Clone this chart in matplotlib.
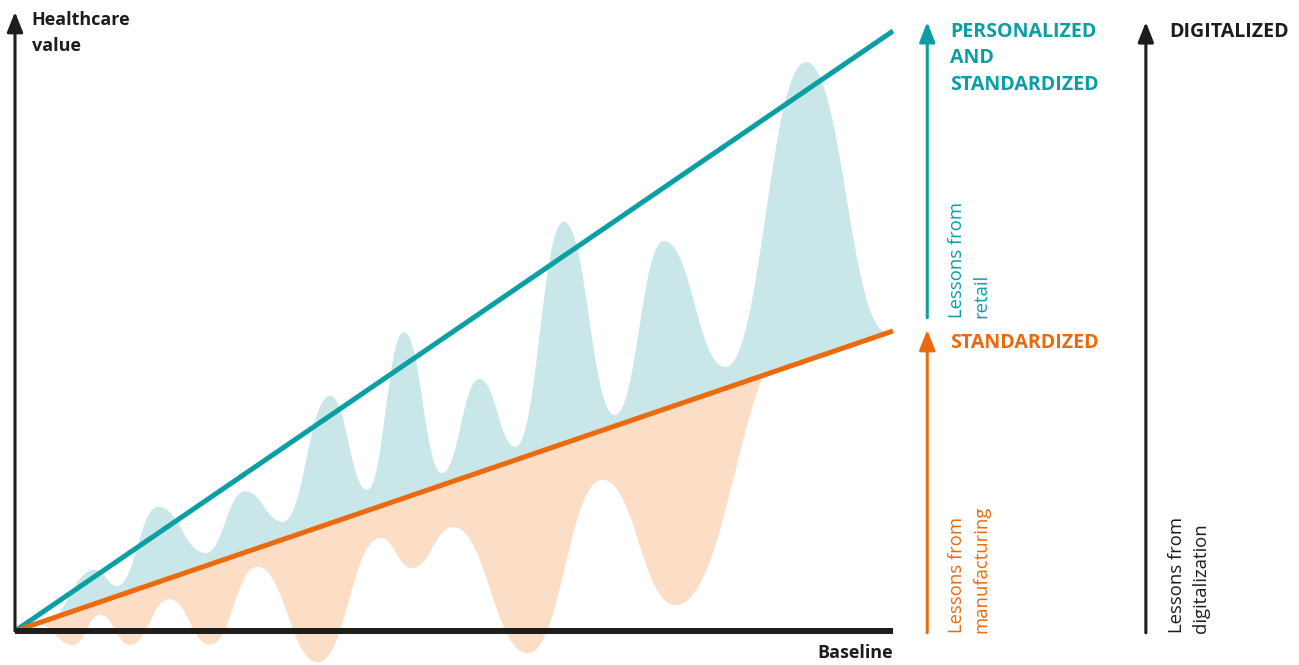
import matplotlib
matplotlib.use("Agg")
import matplotlib.pyplot as plt
from matplotlib.path import Path
from matplotlib.patches import PathPatch, Polygon

plt.rcParams['font.family'] = ['Open Sans', 'DejaVu Sans']

# colours
TEAL = '#0A9EA5'
TEAL_FILL = '#C9E7E9'
ORANGE = '#EC6A0C'
PEACH = '#FCDDC5'
INK = '#1D1D1B'

# end values of the two trend lines (x runs 0..100)
personalized_end = 100
standardized_end = 50

# peaks and troughs of the "retail" wave (above the standardized line)
upper_x = [3.4, 9.1, 11.6, 16.3, 21.7, 26.2, 30.5, 35.9, 40.1, 44.3, 48.6,
           52.9, 57.0, 62.5, 68.3, 73.9, 80.9, 90.1, 99.3]
upper_y = [1.7, 10.2, 7.5, 20.7, 13.0, 23.3, 18.2, 39.2, 23.5, 49.8, 26.3,
           42.0, 30.7, 68.2, 36.0, 65.0, 44.0, 94.8, 49.8]

# peaks and troughs of the "manufacturing" wave (below the standardized line)
lower_x = [2.5, 6.6, 9.7, 13.1, 17.6, 22.2, 27.6, 34.5, 41.6, 45.2, 49.9,
           58.4, 66.9, 75.2, 88.8]
lower_y = [1.2, -2.3, 2.7, -2.3, 5.3, -2.3, 10.7, -5.2, 15.5, 10.5, 17.3,
           -3.7, 25.2, 4.3, 48.5]

slope = standardized_end / 100


def wave_path(xs, ys, k=0.45):
    """Smooth wave through the extrema, closed back along the standardized line."""
    verts = [(xs[0], ys[0])]
    codes = [Path.MOVETO]
    for i in range(len(xs) - 1):
        dx = xs[i + 1] - xs[i]
        verts += [(xs[i] + k * dx, ys[i]), (xs[i + 1] - k * dx, ys[i + 1]),
                  (xs[i + 1], ys[i + 1])]
        codes += [Path.CURVE4] * 3
    verts += [(xs[-1], slope * xs[-1]), (xs[0], slope * xs[0]), (xs[0], ys[0])]
    codes += [Path.LINETO, Path.LINETO, Path.CLOSEPOLY]
    return Path(verts, codes)


fig = plt.figure(figsize=(12.99, 6.65), dpi=100)
ax = fig.add_axes([0, 0, 1, 1])
ax.set_xlim(-15 / 8.78, 1284 / 8.78)
ax.set_ylim(-34 / 6, 631 / 6)
ax.axis('off')

# wave fills, each kept on its own side of the standardized line
above = Polygon([(-5, -5 * slope), (150, 150 * slope), (150, 200), (-5, 200)],
                transform=ax.transData)
below = Polygon([(-5, -5 * slope), (150, 150 * slope), (150, -50), (-5, -50)],
                transform=ax.transData)

teal_patch = PathPatch(wave_path(upper_x, upper_y), facecolor=TEAL_FILL,
                       edgecolor='none', zorder=1)
ax.add_patch(teal_patch)
teal_patch.set_clip_path(above)

peach_patch = PathPatch(wave_path(lower_x, lower_y), facecolor=PEACH,
                        edgecolor='none', zorder=1)
ax.add_patch(peach_patch)
peach_patch.set_clip_path(below)

# trend lines
ax.plot([0, 100], [0, personalized_end], color=TEAL, lw=3.6,
        solid_capstyle='butt', zorder=3)
ax.plot([0, 100], [0, standardized_end], color=ORANGE, lw=3.6,
        solid_capstyle='butt', zorder=3)

# axes
ax.plot([0, 100], [0, 0], color=INK, lw=4.3, solid_capstyle='butt', zorder=4)


def arrow(x, y0, y1, color):
    ax.annotate('', xy=(x, y1), xytext=(x, y0),
                arrowprops=dict(arrowstyle='-|>,head_length=0.76,head_width=0.3',
                                lw=2.2, color=color, shrinkA=0, shrinkB=0,
                                mutation_scale=16),
                zorder=5)


arrow(0, 0, 103.2, INK)
arrow(103.9, 52.2, 101.5, TEAL)
arrow(103.9, -0.3, 50.2, ORANGE)
arrow(128.8, -0.3, 101.5, INK)

# labels
bold = dict(fontsize=13, fontweight='bold', va='baseline', ha='left')
caps = {**bold, 'fontsize': 14.1}
ax.text(1.9, 101.0, 'Healthcare', color=INK, **bold)
ax.text(1.9, 96.7, 'value', color=INK, **bold)
ax.text(100, -4.5, 'Baseline', color=INK, **{**bold, 'ha': 'right'})

for y, line in zip([99.0, 94.6, 90.1], ['PERSONALIZED', 'AND', 'STANDARDIZED']):
    ax.text(106.5, y, line, color=TEAL, **caps)
ax.text(106.5, 47.2, 'STANDARDIZED', color=ORANGE, **caps)
ax.text(131.5, 99.0, 'DIGITALIZED', color=INK, **caps)

side = dict(fontsize=13.3, rotation=90, ha='left', va='bottom', linespacing=1.45)
ax.text(106.3, 52.2, 'Lessons from\nretail', color=TEAL, **side)
ax.text(106.3, -0.3, 'Lessons from\nmanufacturing', color=ORANGE, **side)
ax.text(131.3, -0.3, 'Lessons from\ndigitalization', color=INK, **side)

fig.savefig('out.png', dpi=100)
